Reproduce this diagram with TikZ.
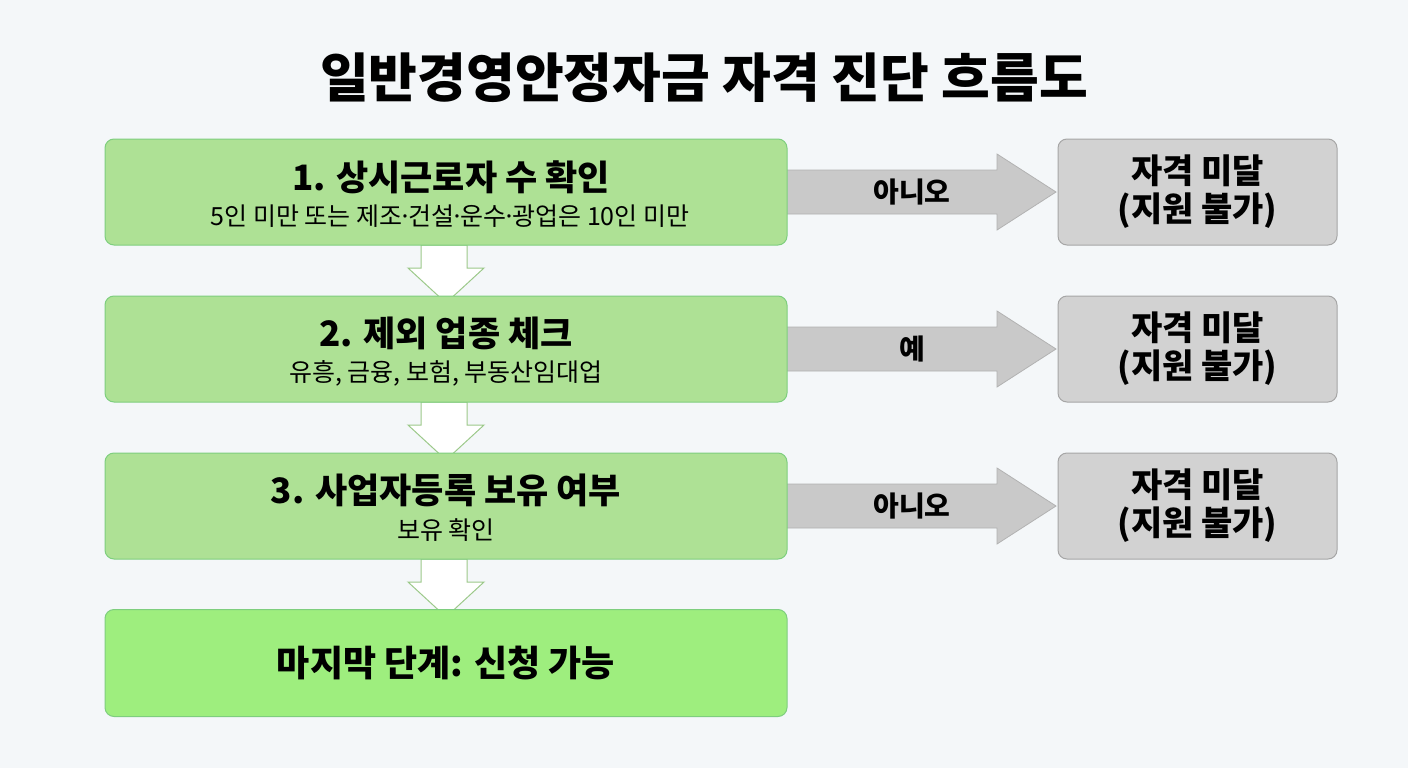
\documentclass[tikz,border=0pt]{standalone}
\usepackage{fontspec}
\newfontfamily\kr{Noto Sans CJK KR}
\newfontfamily\krm{Noto Sans CJK KR Medium}
\begin{document}
\begin{tikzpicture}[x=1pt,y=-1pt,
 gbox/.style={draw=green!45!gray!70,line width=1pt,fill=boxg,rounded corners=9pt},
 fbox/.style={draw=green!45!gray!70,line width=1pt,fill=boxf,rounded corners=9pt},
 xbox/.style={draw=gray!70,line width=1pt,fill=boxx,rounded corners=9pt},
 varr/.style={fill=white,draw=arrv,line width=1pt,line join=miter}]
\definecolor{bg}{HTML}{F4F7F9}
\definecolor{boxg}{HTML}{AEE195}
\definecolor{boxf}{HTML}{9EEE7E}
\definecolor{boxx}{HTML}{D2D2D2}
\definecolor{arrg}{HTML}{C9C9C9}
\definecolor{arrv}{HTML}{9CC98A}
\fill[bg] (0,0) rectangle (1408,768);
\useasboundingbox (0,0) rectangle (1408,768);
\kr
\node (title) at (704,78) {\fontsize{53}{60}\selectfont\bfseries 일반경영안정자금 자격 진단 흐름도};
% horizontal arrows
\foreach \y/\t [count=\i] in {192/아니오,349/예,506/아니오}{
 \fill[arrg] (787,\y-22) -- (997,\y-22) -- (997,\y-38) -- (1056,\y) -- (997,\y+38) -- (997,\y+22) -- (787,\y+22) -- cycle;
 \draw[gray!60,line width=0.8pt] (787,\y-22) -- (997,\y-22) -- (997,\y-38) -- (1056,\y) -- (997,\y+38) -- (997,\y+22) -- (787,\y+22);
 \node (h\i) at (912,\y) {\fontsize{28}{32}\selectfont\bfseries \t};
}
% vertical arrows
\foreach \y in {245,402,559}{
 \draw[varr] (421,\y) -- (467,\y) -- (467,\y+23) -- (484,\y+23) -- (446,\y+58) -- (408,\y+23) -- (421,\y+23) -- cycle;
}
\node[gbox,minimum width=682,minimum height=106] (b1) at (446,192) {};
\node (t1) at (451,177) {\fontsize{35}{40}\selectfont\bfseries 1. 상시근로자 수 확인};
\node (s1) at (450,216) {\fontsize{25}{29}\selectfont 5인 미만 또는 제조{\kern-4pt}·{\kern-4pt}건설{\kern-4pt}·{\kern-4pt}운수{\kern-4pt}·{\kern-4pt}광업은 10인 미만};
\node[gbox,minimum width=682,minimum height=106] (b2) at (446,349) {};
\node (t2) at (446,333) {\fontsize{35}{40}\selectfont\bfseries 2. 제외 업종 체크};
\node (s2) at (446,373) {\fontsize{25}{29}\selectfont 유흥, 금융, 보험, 부동산임대업};
\node[gbox,minimum width=682,minimum height=106] (b3) at (446,506) {};
\node (t3) at (446,490) {\fontsize{35}{40}\selectfont\bfseries 3. 사업자등록 보유 여부};
\node (s3) at (446,530) {\fontsize{25}{29}\selectfont 보유 확인};
\node[fbox,minimum width=682,minimum height=107] (b4) at (446,663) {\fontsize{36}{40}\selectfont\bfseries 마지막 단계: 신청 가능};
\foreach \y [count=\i] in {192,349,506}{
 \node[xbox,minimum width=279,minimum height=106,align=center,font=\fontsize{34}{38}\selectfont\bfseries] (x\i) at (1197.5,\y) {자격 미달\\(지원 불가)};
}
\end{tikzpicture}
\end{document}
